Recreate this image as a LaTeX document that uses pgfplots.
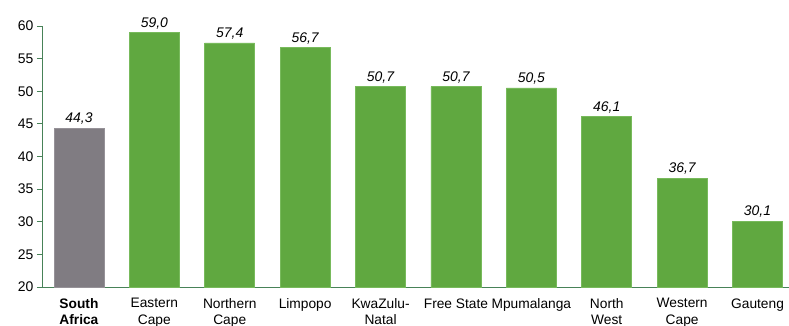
\documentclass[border=0pt]{standalone}
\usepackage{pgfplots}
\pgfplotsset{compat=1.18}
\usepackage{fontspec}
\setmainfont{Liberation Sans}
\usetikzlibrary{calc}
\definecolor{barg}{RGB}{96,168,64}
\definecolor{barge}{RGB}{120,186,92}
\definecolor{barGr}{RGB}{128,124,130}
\definecolor{barGre}{RGB}{150,146,152}
\definecolor{axg}{RGB}{72,130,88}
\begin{document}
\begin{tikzpicture}[x=1bp,y=1bp]
\begin{axis}[
  scale only axis,
  width=760.8bp, height=261bp,
  xmin=-0.49, xmax=9.6,
  ymin=20, ymax=60,
  ytick={20,25,30,35,40,45,50,55,60},
  axis lines=left,
  axis line style={-, draw=axg, line width=0.8pt},
  ytick style={draw=axg, line width=0.8pt},
  tick align=outside,
  major tick length=5bp,
  xtick={0,...,9},
  xtick style={draw=none},
  xticklabels={\textbf{South}\\\textbf{Africa},Eastern\\Cape,Northern\\Cape,Limpopo,KwaZulu-\\Natal,Free State,Mpumalanga,North\\West,Western\\Cape,Gauteng},
  xticklabel style={align=center, font=\fontsize{13.8}{16.5}\selectfont, text depth=0pt, yshift=-3bp},
  yticklabel style={font=\fontsize{14}{15}\selectfont},
  /pgf/number format/assume math mode=true,
  ybar, bar width=50bp, bar shift=0pt,
  nodes near coords,
  nodes near coords style={font=\fontsize{14}{15}\selectfont\itshape, /pgf/number format/.cd, use comma, fixed, fixed zerofill, precision=1, assume math mode=true},
  clip=false,
]
\addplot[fill=barGr, draw=barGre, line width=0.8pt] coordinates {(0,44.3)};
\addplot[fill=barg, draw=barge, line width=0.8pt] coordinates {(1,59.0) (2,57.4) (3,56.7) (4,50.7) (5,50.7) (6,50.5) (7,46.1) (8,36.7) (9,30.1)};
\coordinate (bl) at (rel axis cs:0,0);
\end{axis}
\pgfresetboundingbox
\useasboundingbox ($(bl)+(-42bp,-39bp)$) rectangle ($(bl)+(747bp,287bp)$);
\end{tikzpicture}
\end{document}
